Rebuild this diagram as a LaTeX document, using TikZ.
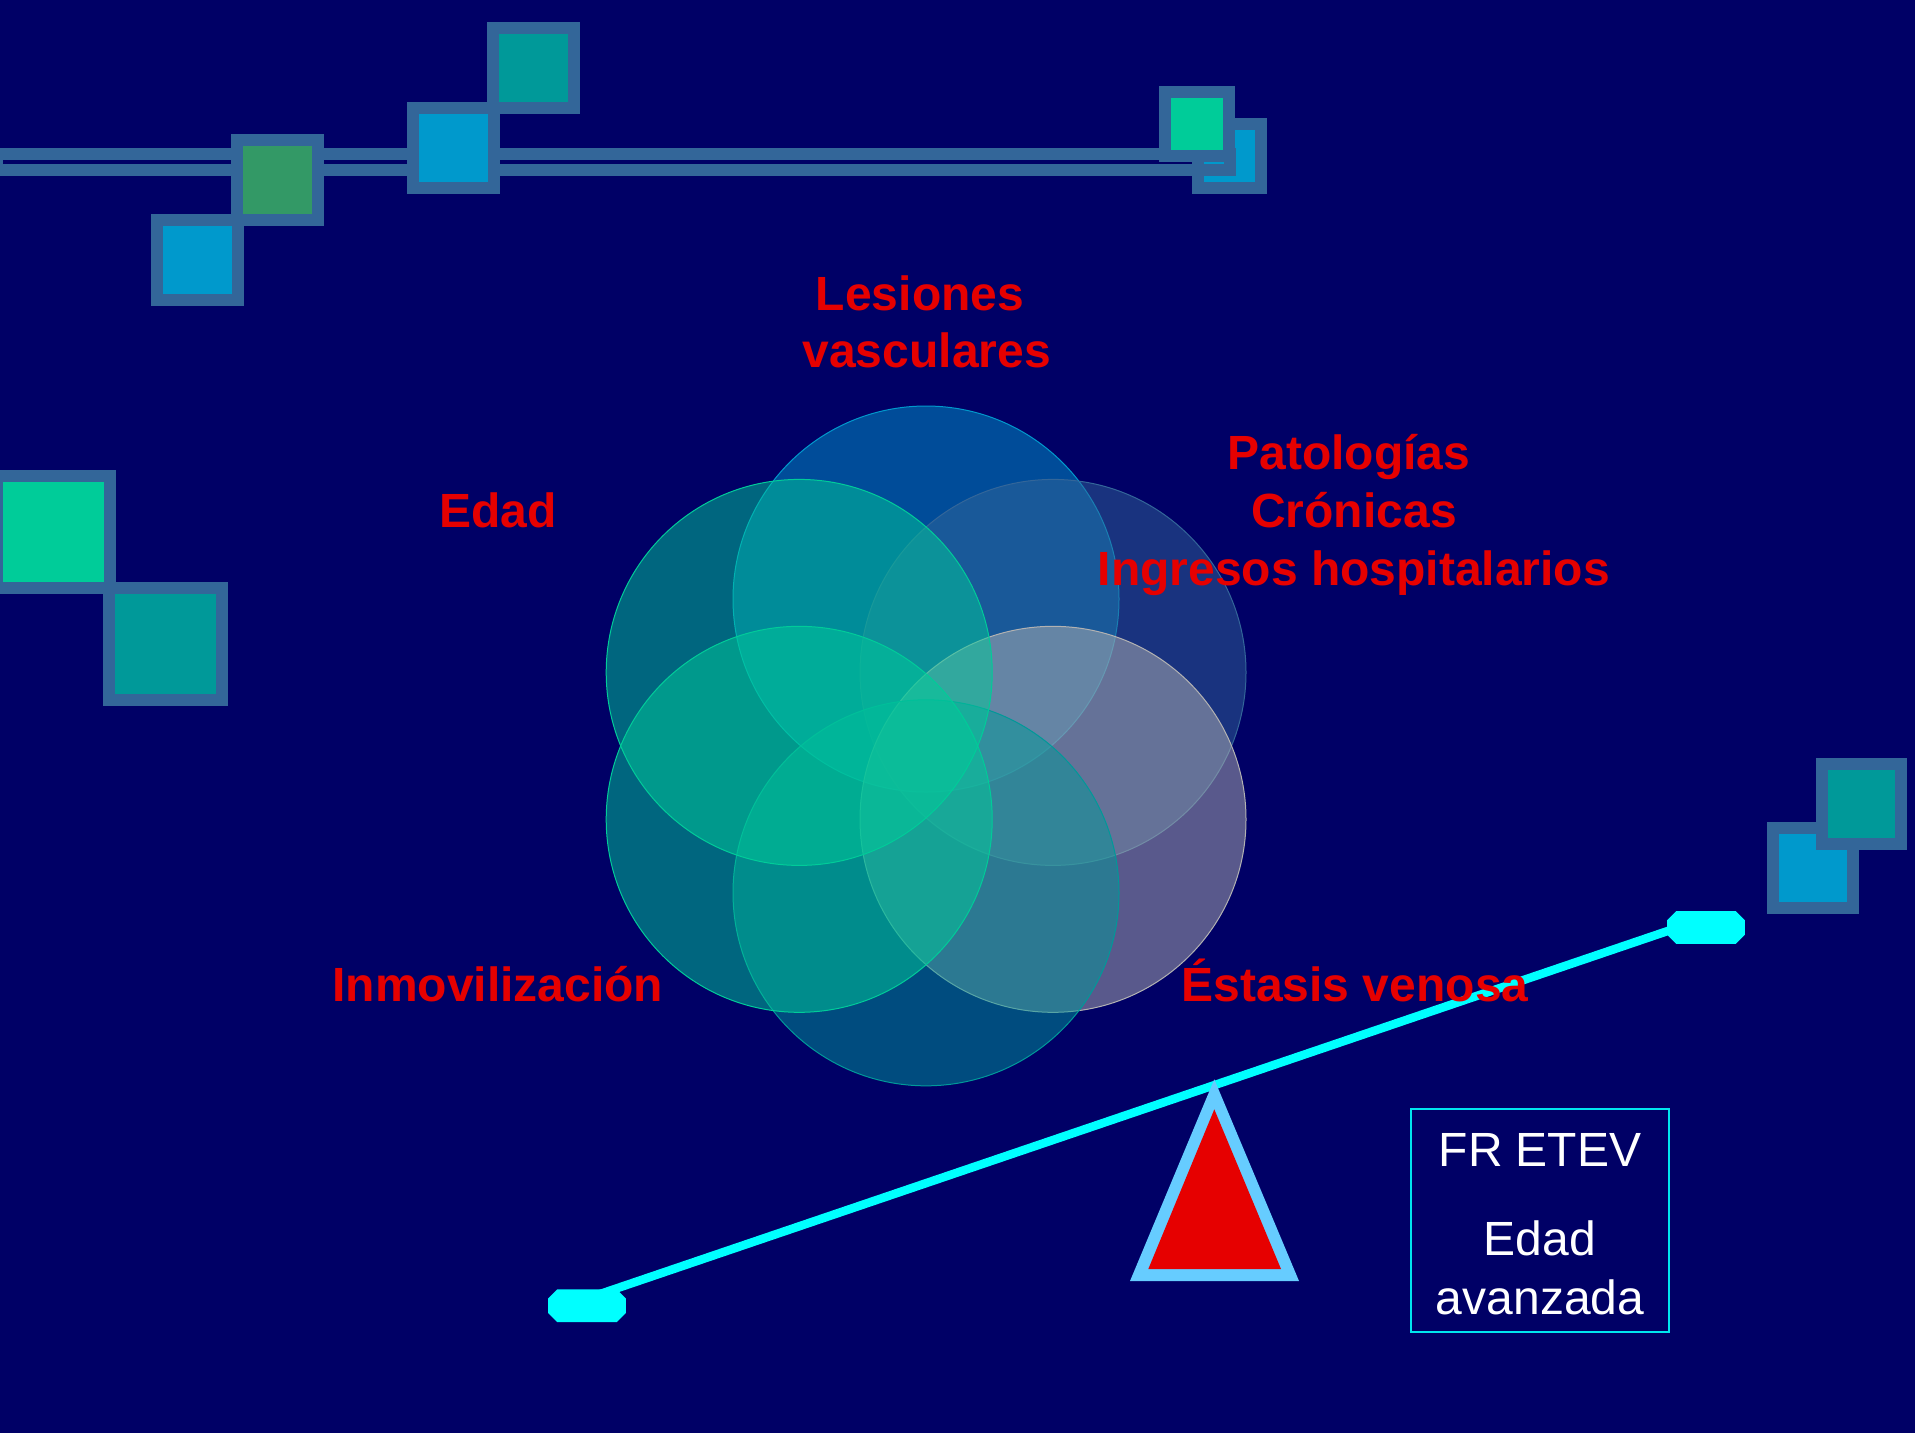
\documentclass[tikz,border=0pt]{standalone}
\usepackage{fontspec}
\setmainfont{Liberation Sans}
\definecolor{bgblue}{HTML}{000066}
\definecolor{steel}{HTML}{336699}
\definecolor{sqblue}{HTML}{0099CC}
\definecolor{sqteal}{HTML}{009999}
\definecolor{sqgreen}{HTML}{339966}
\definecolor{sqmint}{HTML}{00CC99}
\definecolor{cgray}{HTML}{B2B2B2}
\definecolor{lblred}{HTML}{E60000}
\definecolor{lightblue}{HTML}{66CCFF}
\definecolor{boxcyan}{HTML}{00E5EE}
\definecolor{levercyan}{HTML}{00FFFF}
\begin{document}
\begin{tikzpicture}[x=0.5pt,y=-0.5pt,
  sqbox/.style={draw=steel,line width=6pt,fill=#1},
  rail/.style={draw=steel,line width=6pt},
  circ/.style={fill=#1,fill opacity=0.5,draw=#1,draw opacity=1,line width=0.5pt},
  lever/.style={draw=levercyan,line width=4.25pt},
  handlefill/.style={fill=levercyan},
  lbl/.style={text=lblred,font=\fontsize{24}{28}\selectfont\bfseries,inner sep=0pt,anchor=base},
  boxtxt/.style={text=white,font=\fontsize{24}{28}\selectfont,inner sep=0pt,anchor=base},
  frame/.style={draw=boxcyan,line width=1pt,minimum width=128.75pt,minimum height=111.5pt,inner sep=0pt}
]
\useasboundingbox (0,0) rectangle (1915,1432);
\fill[bgblue] (-20,-20) rectangle (1935,1452);

% top-right back square, rail, decorative squares
\draw[sqbox=sqblue] (1197.7,124) rectangle (1261.3,187.7);
\draw[rail] (-3.3,154.3) rectangle (1229.5,170.3);
\draw[sqbox=sqblue] (156.9,220) rectangle (237.75,299.7);
\draw[sqbox=sqgreen] (236.8,140) rectangle (317.7,219.7);
\draw[sqbox=sqblue] (413,108) rectangle (493.6,187.7);
\draw[sqbox=sqteal] (493,28) rectangle (573.5,107.7);
\draw[sqbox=sqmint] (1165.3,92) rectangle (1229.3,155.7);
% left squares
\draw[sqbox=sqmint] (-2.7,476) rectangle (109.7,587.7);
\draw[sqbox=sqteal] (109.3,588) rectangle (221.7,699.7);
% right squares
\draw[sqbox=sqblue] (1773.3,828) rectangle (1853.3,907.7);
\draw[sqbox=sqteal] (1821.7,764) rectangle (1901.3,843.7);

% circles
\draw[circ=sqblue] (926,599) circle[radius=96.5pt];
\draw[circ=steel] (1053,672.4) circle[radius=96.5pt];
\draw[circ=cgray] (1053,819.3) circle[radius=96.5pt];
\draw[circ=sqteal] (926,892.8) circle[radius=96.5pt];
\draw[circ=sqmint] (799.2,819.3) circle[radius=96.5pt];
\draw[circ=sqmint] (799.2,672.4) circle[radius=96.5pt];

% lever
\coordinate (lh) at (587,1305.7);
\coordinate (rh) at (1706,927.5);
\coordinate (lend) at (590,1297.4);
\coordinate (rend) at (1690,923.4);
\draw[lever] (lend) -- (rend);
\foreach \h in {lh,rh}{
  \fill[handlefill,shift={(\h)}] (-38.8,-7.3) -- (-29.8,-16.3) -- (29.8,-16.3) -- (38.8,-7.3)
    -- (38.8,7.3) -- (29.8,16.3) -- (-29.8,16.3) -- (-38.8,7.3) -- cycle;
}

% fulcrum
\fill[lightblue] (1214.3,1079.3) -- (1130,1281) -- (1299,1281) -- cycle;
\fill[lblred] (1214.3,1109.3) -- (1148.3,1269) -- (1281,1269) -- cycle;

% box
\node[frame] (frbox) at (1539.75,1220.5) {};
\node[boxtxt] (fr1) at (1540,1166) {FR ETEV};
\node[boxtxt] (fr2) at (1540,1255) {Edad};
\node[boxtxt] (fr3) at (1540,1314) {avanzada};

% labels
\node[lbl] (les1) at (920,310.5) {Lesiones};
\node[lbl] (les2) at (926.7,367.5) {vasculares};
\node[lbl] (pat1) at (1348.7,469.3) {Patologías};
\node[lbl] (pat2) at (1354,527.5) {Crónicas};
\node[lbl] (pat3) at (1353.9,585) {Ingresos hospitalarios};
\node[lbl] (edad) at (498,527) {Edad};
\node[lbl] (inmo) at (497.8,1001) {Inmovilización};
\node[lbl] (esta) at (1355,1001) {Éstasis venosa};
\end{tikzpicture}
\end{document}
